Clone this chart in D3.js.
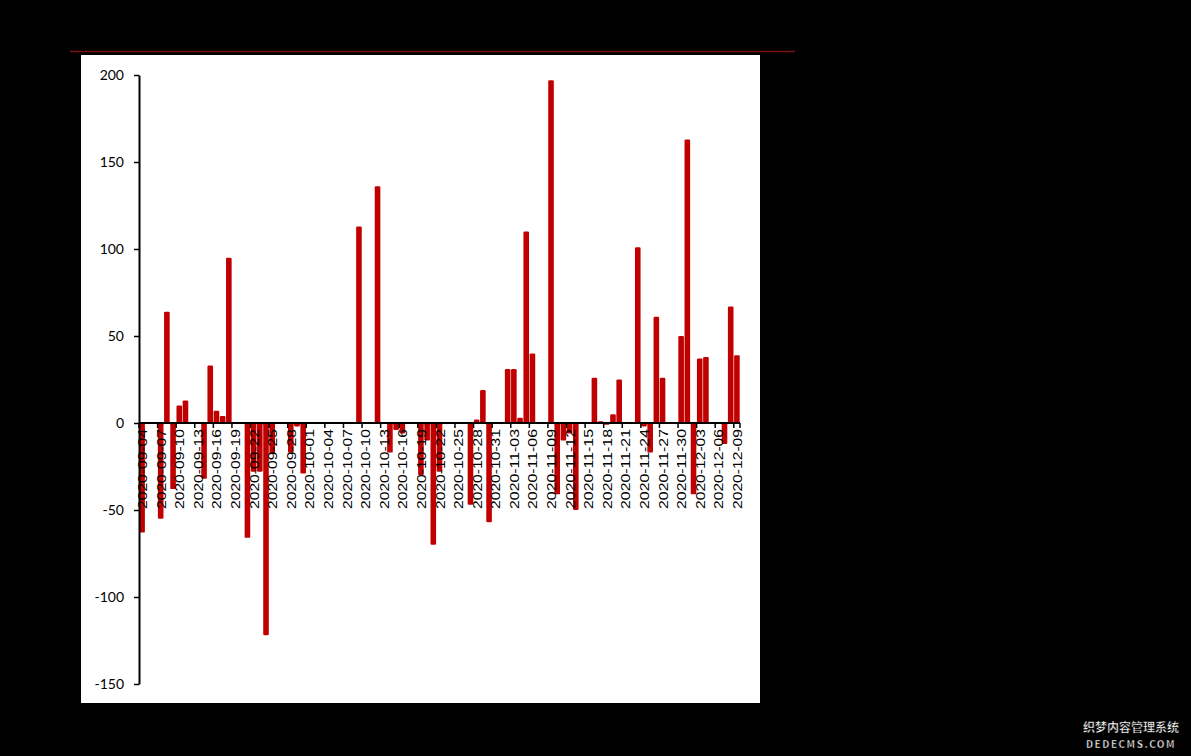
<!DOCTYPE html>
<html><head><meta charset="utf-8">
<script src="https://cdn.jsdelivr.net/npm/d3@7/dist/d3.min.js"></script>
<style>
html,body{margin:0;padding:0;background:#000;}
svg{display:block;}
</style></head>
<body>
<svg id="c" width="1191" height="756"></svg>
<script>
const dates = ["2020-09-04","2020-09-07","2020-09-08","2020-09-09","2020-09-10","2020-09-11",
"2020-09-14","2020-09-15","2020-09-16","2020-09-17","2020-09-18",
"2020-09-21","2020-09-22","2020-09-23","2020-09-24","2020-09-25",
"2020-09-28","2020-09-29","2020-09-30",
"2020-10-09","2020-10-12","2020-10-14","2020-10-15","2020-10-16",
"2020-10-19","2020-10-20","2020-10-21","2020-10-22",
"2020-10-27","2020-10-28","2020-10-29","2020-10-30",
"2020-11-02","2020-11-03","2020-11-04","2020-11-05","2020-11-06",
"2020-11-09","2020-11-10","2020-11-11","2020-11-12","2020-11-13",
"2020-11-16","2020-11-17","2020-11-18","2020-11-19","2020-11-20",
"2020-11-23","2020-11-24","2020-11-25","2020-11-26","2020-11-27",
"2020-11-30","2020-12-01","2020-12-02","2020-12-03","2020-12-04",
"2020-12-07","2020-12-08","2020-12-09"];
const values = [-63,-55,64,-38,10,13,
-32,33,7,4,95,
-66,-28,-28,-122,-18,
-17,-2,-29,
113,136,-17,-4,-6,
-30,-10,-70,-28,
-47,2,19,-57,
31,31,3,110,40,
197,-41,-10,-6,-50,
26,1,-1,5,25,
101,-2,-17,61,26,
50,163,-41,37,38,
-12,67,39];
const yTicks = [200,150,100,50,0,-50,-100,-150];
const startDate = "2020-09-04", endDate = "2020-12-09";
const tickStepDays = 3;

const parse = d3.timeParse("%Y-%m-%d");
const fmt = d3.timeFormat("%Y-%m-%d");
const t0 = parse(startDate), t1 = parse(endDate);
const nDays = d3.timeDay.count(t0, t1);
const dayIdx = s => d3.timeDay.count(t0, parse(s));

const svg = d3.select("#c");
svg.append("rect").attr("width",1191).attr("height",756).attr("fill","#000");
svg.append("line").attr("x1",70).attr("x2",795).attr("y1",51.5).attr("y2",51.5)
  .attr("stroke","#7a1010").attr("stroke-width",1.5);
svg.append("rect").attr("x",81).attr("y",55).attr("width",679).attr("height",648).attr("fill","#fff");

const x = d3.scaleLinear().domain([-0.5, nDays+0.5]).range([139, 740]);
const y = d3.scaleLinear().domain([-150,200]).range([684,75]);
const bw = 5.6;

// bars
svg.append("g").selectAll("rect").data(dates.map((d,i)=>({d, v: values[i]})))
  .join("rect")
  .attr("x", p => x(dayIdx(p.d)) - bw/2)
  .attr("width", bw)
  .attr("y", p => y(Math.max(0,p.v)))
  .attr("height", p => Math.abs(y(p.v)-y(0)))
  .attr("rx", 1.2)
  .attr("fill", "#c00000");

// y axis
const ya = d3.axisLeft(y).tickValues(yTicks).tickSize(5).tickSizeOuter(0).tickFormat(d => String(d));
const gy = svg.append("g").attr("transform","translate(139,0)").call(ya);
gy.select(".domain").attr("stroke","#000").attr("stroke-width",2);
gy.selectAll(".tick line").attr("stroke","#000").attr("stroke-width",1.5);
gy.selectAll(".tick text").attr("x",-15).attr("font-family","Lato, 'Open Sans', sans-serif")
  .attr("font-size",14).attr("fill","#000");

// x axis at y=0
const tickDays = d3.range(0, nDays+1, tickStepDays);
const gx = svg.append("g").attr("transform",`translate(0,${y(0)})`);
gx.append("line").attr("x1",x(-0.5)).attr("x2",x(nDays+0.5)).attr("stroke","#000").attr("stroke-width",2);
gx.selectAll("line.tk").data(tickDays.concat([nDays+1])).join("line").attr("class","tk")
  .attr("x1", d=>x(d-0.5)).attr("x2", d=>x(d-0.5)).attr("y1",0).attr("y2",5)
  .attr("stroke","#000").attr("stroke-width",1.5);
gx.selectAll("text").data(tickDays).join("text")
  .attr("transform", d=>`translate(${x(d)+5},${6}) rotate(-90)`)
  .attr("text-anchor","end")
  .attr("font-family","'Liberation Sans', Arial, sans-serif")
  .attr("font-size",13.5)
  .attr("textLength",80).attr("lengthAdjust","spacingAndGlyphs")
  .attr("fill","#000")
  .text(d => fmt(d3.timeDay.offset(t0, d)));

// watermark
const wm = svg.append("g").attr("font-family","'Noto Sans CJK SC', sans-serif").attr("fill","#fff")
  .attr("stroke","#000").attr("stroke-width",0.4);
wm.append("text").attr("x",1131).attr("y",732).attr("text-anchor","middle").attr("font-size",12).attr("font-weight","bold").text("织梦内容管理系统");
wm.append("text").attr("x",1131).attr("y",748).attr("text-anchor","middle").attr("font-size",10).attr("font-weight","bold").attr("letter-spacing",1.5).text("DEDECMS.COM");
</script>
</body></html>
